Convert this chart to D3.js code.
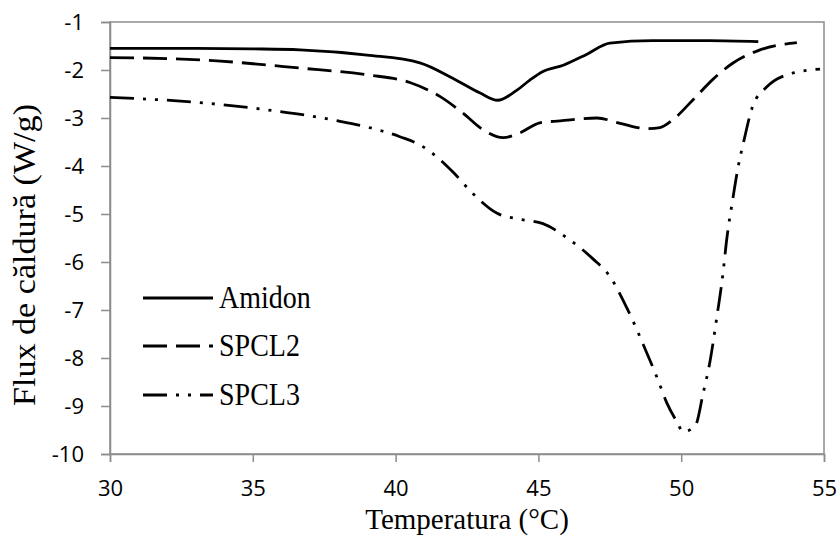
<!DOCTYPE html>
<html><head><meta charset="utf-8">
<script src="https://cdn.jsdelivr.net/npm/d3@7"></script>
<style>html,body{margin:0;padding:0;background:#fff;}</style>
</head><body>
<svg id="chart" width="840" height="538"></svg>
<script>
const xTicks = [30, 35, 40, 45, 50, 55];
const yTicks = [-1, -2, -3, -4, -5, -6, -7, -8, -9, -10];
const seriesNames = ["Amidon", "SPCL2", "SPCL3"];

const amidonT = [30, 33, 35, 36.65, 39, 40.85, 42.0, 42.96, 43.57, 44.25, 44.7, 45.16, 45.87, 46.7, 47.5, 49.0, 51, 52.7];
const amidonY = [-1.55, -1.55, -1.56, -1.58, -1.69, -1.85, -2.17, -2.48, -2.63, -2.42, -2.21, -2.03, -1.90, -1.67, -1.44, -1.39, -1.39, -1.41];

const spcl2T = [30, 33.2, 36.65, 39.0, 40.5, 41.55, 42.36, 43.07, 43.77, 44.35, 45.05, 45.76, 47.05, 47.86, 48.8, 49.26, 49.7, 50.4, 51.1, 51.8, 52.76, 54.05];
const spcl2Y = [-1.74, -1.79, -1.96, -2.1, -2.26, -2.55, -2.9, -3.25, -3.41, -3.31, -3.1, -3.06, -3.0, -3.11, -3.22, -3.2, -3.04, -2.63, -2.2, -1.86, -1.58, -1.43];

const spcl3T = [30, 33.15, 35.5, 37.8, 40.15, 40.85, 41.3, 42.0, 42.7, 43.54, 44.35, 45.16, 46.1, 46.9, 47.5, 48.1, 48.8, 49.15, 49.5, 49.85, 50.07, 50.5, 50.77, 51.0, 51.25, 51.45, 51.6, 51.8, 52.0, 52.2, 52.5, 53.0, 53.7, 54.86];
const spcl3Y = [-2.57, -2.68, -2.83, -3.04, -3.39, -3.56, -3.74, -4.12, -4.57, -4.98, -5.11, -5.2, -5.54, -5.93, -6.3, -6.96, -7.9, -8.4, -8.94, -9.33, -9.54, -9.4, -8.73, -8.1, -7.14, -6.3, -5.5, -4.71, -4.0, -3.46, -2.76, -2.35, -2.1, -1.98];

const series = [
  {name: seriesNames[0], t: amidonT, y: amidonY, dash: null},
  {name: seriesNames[1], t: spcl2T, y: spcl2Y, dash: "24,9"},
  {name: seriesNames[2], t: spcl3T, y: spcl3Y, dash: "24,9,3,9,3,9"}
];

const svg = d3.select("#chart");
const L = 110, R = 824, T = 22, B = 454;
const x = d3.scaleLinear().domain([30, 55]).range([L, R]);
const y = d3.scaleLinear().domain([-10, -1]).range([B, T]);
const gray = "#8c8c8c";
const S = 1.12;

svg.append("rect").attr("x", L).attr("y", T).attr("width", R - L).attr("height", B - T)
  .attr("fill", "none").attr("stroke", gray).attr("stroke-width", 1.5);

const xAxis = svg.append("g").attr("transform", `translate(0,${B})`)
  .call(d3.axisBottom(x).tickValues(xTicks).tickSize(8).tickFormat(d => String(d)));
const yAxis = svg.append("g").attr("transform", `translate(${L},0)`)
  .call(d3.axisLeft(y).tickValues(yTicks).tickSize(9).tickPadding(17).tickFormat(d => String(d)));
[xAxis, yAxis].forEach(a => {
  a.select(".domain").attr("stroke", gray).attr("stroke-width", 1.5);
  a.selectAll(".tick line").attr("stroke", gray).attr("stroke-width", 1.5);
  a.selectAll(".tick text").attr("fill", "#000")
    .style("font-family", "'Open Sans', sans-serif").style("font-size", "22px");
});
xAxis.selectAll(".tick text").attr("y", 42).attr("dy", 0);
yAxis.selectAll(".tick text").attr("y", 0).attr("dy", "0.36em");

const line = d3.line().x(d => x(d[0])).y(d => y(d[1])).curve(d3.curveMonotoneX);
series.forEach(s => {
  const pts = s.t.map((t, i) => [t, s.y[i]]);
  svg.append("path").datum(pts).attr("d", line)
    .attr("fill", "none").attr("stroke", "#000").attr("stroke-width", 2.8)
    .attr("stroke-dasharray", s.dash);
});

const legY = [298, 346, 395];
series.forEach((s, i) => {
  svg.append("line").attr("x1", 143).attr("x2", 213).attr("y1", legY[i]).attr("y2", legY[i])
    .attr("stroke", "#000").attr("stroke-width", 2.8).attr("stroke-dasharray", s.dash);
  svg.append("text").attr("transform", `translate(219,${legY[i] + 10}) scale(1,${S})`)
    .style("font-family", "'Liberation Serif', serif").style("font-size", "28px").text(s.name);
});

svg.append("text").attr("x", (L + R) / 2).attr("y", 529).attr("text-anchor", "middle")
  .style("font-family", "'Liberation Serif', serif").style("font-size", "29px").text("Temperatura (°C)");
svg.append("text").attr("transform", `translate(35,255) scale(1,1.1) rotate(-90)`).attr("text-anchor", "middle")
  .style("font-family", "'Liberation Serif', serif").style("font-size", "31px").text("Flux de căldură (W/g)");
</script>
</body></html>
